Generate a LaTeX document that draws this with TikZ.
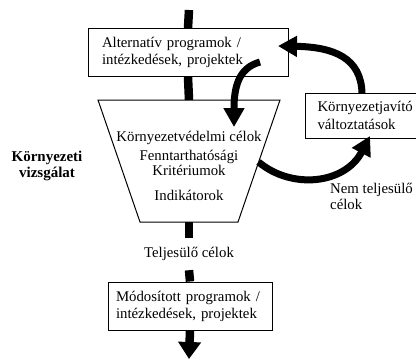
\documentclass[tikz,border=0pt]{standalone}
\usepackage{fontspec}
\setmainfont{Liberation Serif}
\usetikzlibrary{arrows.meta}

\begin{document}
\begin{tikzpicture}[x=1pt,y=-1pt,
        font=\fontsize{14.8}{17}\selectfont,
        box/.style={draw,line width=1pt,fill=white,align=left,minimum height=48pt},
        spine/.style={line width=8.5pt},
        loopar/.style={line width=7pt,-{Triangle[width=20pt,length=19pt]}}]
        \useasboundingbox (0,0) rectangle (416,360);

        % filter
        \coordinate (f1) at (98,100);
        \coordinate (f2) at (280,100);
        \coordinate (f3) at (238,222);
        \coordinate (f4) at (140,222);
        \draw[line width=1pt] (f1)--(f2)--(f3)--(f4)--cycle;
        \node (crit) [align=center] at (189,166) {Környezetvédelmi célok\\[2pt]
            Fenntarthatósági\\[-2pt] Kritériumok\\[8pt] Indikátorok};

        % spine
        \coordinate (top) at (189,10);
        \coordinate (ft) at (189,100);
        \coordinate (fb) at (189,222);
        \coordinate (end) at (189,359);
        \node (alt) [box,text width=172pt,inner xsep=14pt] at (188,52.5)
            {Alternatív programok /\\ intézkedések, projektek};
        \node (ok) [minimum height=32pt,inner sep=0pt] at (189,254) {Teljesülő célok};
        \node (mod) [box,text width=148pt,inner xsep=8pt] at (190,306)
            {Módosított programok /\\ intézkedések, projektek};
        \node (jav) [box,anchor=west,text width=120pt,inner xsep=12pt,minimum height=45pt,
            font=\fontsize{14.8}{17.5}\selectfont] at (305,115.5) {Környezetjavító\\ változtatások};

        \draw[spine] (top)--(alt.north);
        \draw[spine] (alt.south)--(ft);
        \draw[spine] (fb)--(ok.north);
        \draw[spine] (ok.south)--(mod.north);
        \draw[spine,-{Triangle[width=22pt,length=17pt]}] (mod.south)--(end);

        % loop
        \coordinate (a1) at (260,62);
        \coordinate (a2) at (234,127);
        \coordinate (j1) at (362,93);
        \coordinate (j2) at (278,46);
        \coordinate (n1) at (258.5,162);
        \coordinate (n2) at (370,136);
        \draw[loopar] (a1) .. controls (238,68) and (234,88) .. (a2);
        \draw[loopar] (j1) .. controls (361,58) and (334,47) .. (j2);
        \draw[loopar] (n1) .. controls (292,190) and (345,184) .. (n2);

        \node (vizs) [align=center,font=\fontsize{15}{15.5}\selectfont\bfseries]
            at (47,166) {Környezeti\\ vizsgálat};
        \node (nem) [align=left,anchor=west,inner sep=0pt,font=\fontsize{14.8}{16}\selectfont]
            at (330,196) {Nem teljesülő\\ célok};
\end{tikzpicture}
\end{document}
